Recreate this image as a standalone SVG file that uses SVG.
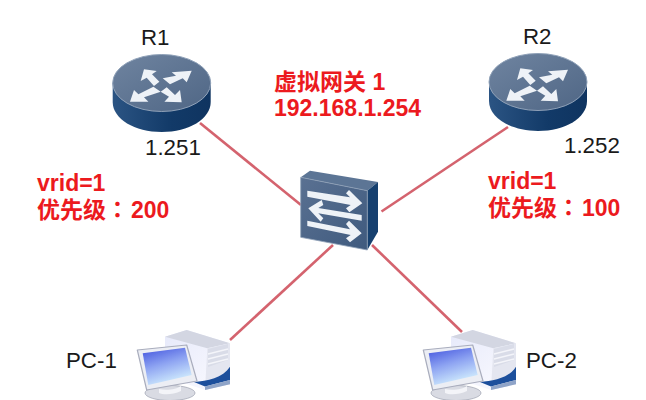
<svg xmlns="http://www.w3.org/2000/svg" width="646" height="400" viewBox="0 0 646 400">
<style>
.lbl{font-family:"Liberation Sans",Arial,sans-serif;font-size:22.300px;fill:#1a1a1a}
.red{font-family:"Liberation Sans","Noto Sans CJK SC",sans-serif;font-size:23px;font-weight:700;fill:#ec1a1e}
.tc{font-family:"Noto Sans CJK TC",sans-serif}
.link{stroke:#d4636e;stroke-width:2.600;fill:none}
.arr{fill:#eef2f7}
</style>
<defs>
<filter id="soft" x="-5%" y="-5%" width="110%" height="110%"><feGaussianBlur stdDeviation="0.45"/></filter>
<linearGradient id="rtop" x1="0" y1="0" x2="1" y2="1"><stop offset="0" stop-color="#6f84a0"/><stop offset="1" stop-color="#4f6685"/></linearGradient>
<linearGradient id="rside" x1="0" y1="0" x2="1" y2="0"><stop offset="0" stop-color="#2b5483"/><stop offset="0.6" stop-color="#123a68"/><stop offset="1" stop-color="#0f3460"/></linearGradient>
<linearGradient id="sfront" x1="0" y1="0" x2="1" y2="1"><stop offset="0" stop-color="#5a7192"/><stop offset="1" stop-color="#3f5a7e"/></linearGradient>
<linearGradient id="screen" x1="0.2" y1="0" x2="0.6" y2="1"><stop offset="0" stop-color="#4a5ce0"/><stop offset="0.45" stop-color="#8ea4f2"/><stop offset="1" stop-color="#d6f2fe"/></linearGradient>
<linearGradient id="tower" x1="0" y1="0" x2="1" y2="1"><stop offset="0" stop-color="#e6e9fa"/><stop offset="1" stop-color="#fbfbff"/></linearGradient>
<g id="router">
<path d="M-49 0V19C-49 36-27 49 0 49S49 36 49 19V0Z" fill="url(#rside)"/>
<ellipse cx="0" cy="0" rx="49" ry="28.500" fill="url(#rtop)" stroke="#8fa1b8" stroke-width="1"/>
<g class="arr">
<path d="M-17.700-13.700-5-12-9.700-8.700-2.300-1.300-7.700 3-15-5.300-21-2Z"/>
<path d="M30-12.300 10-10.700 14.300-7.300 1-4.700 8.300 1.300 21-4.700 25-.7Z"/>
<path d="M-31.700 18.700-13.300 18.700-17.700 14.300-1 8.700-8.300 3.700-23.300 11.300-27.700 7Z"/>
<path d="M20 19.300 2.700 18.700 7.300 13.700-1 8.700 5 4.300 13.300 12 18.300 7Z"/>
</g>
</g>
<g id="pc" filter="url(#soft)">
<path d="M26 5.700 47.700-1 91 12.300V53.300L66 59 45 52 26 40Z" fill="url(#tower)"/>
<path d="M26 5.700 47.700-1 91 12.300 68.300 17.300Z" fill="#d3d6e2"/>
<path d="M68.300 17.300 91 12.300V53.300L66 59Z" fill="#e4e6f0"/>
<path d="M69 18 89 13V29L69 36Z" fill="#d9dce8"/>
<path d="M69 23 89 18M69 28 89 23M69 33 89 28" stroke="#f4f5fa" stroke-width="1.300"/>
<path d="M55 51C68 50 84 47 91 35.700V49L66 55.500Z" fill="#1c4f9c"/>
<path d="M66 55.500 91 49V53.300L66 59Z" fill="#8fa4c8"/>
<ellipse cx="31" cy="62" rx="25" ry="7.500" fill="#d9dbe3" stroke="#a4a8b6" stroke-width=".8"/>
<path d="M20 58C28 60 38 58 42 55L42 60C34 64 24 64 20 62Z" fill="#f3f4f8"/>
<path d="M-1.700 19 47.700 14 58 50 7.700 59Z" fill="#eceef4" stroke="#a9adbd" stroke-width="1.200" stroke-linejoin="round"/>
<path d="M3.700 22.300 46 16.700 52.700 44 9.300 54Z" fill="url(#screen)"/>
</g>
</defs>
<rect width="646" height="400" fill="#fff"/>
<g id="connectors">
<line class="link" x1="200" y1="123" x2="301" y2="205"/>
<line class="link" x1="381.500" y1="211.500" x2="508" y2="127"/>
<line class="link" x1="333" y1="245" x2="230" y2="340"/>
<line class="link" x1="372" y1="245" x2="462" y2="332"/>
</g>
<g id="R1"><use href="#router" x="161.700" y="83"/><text class="lbl" x="141" y="45">R1</text><text class="lbl" x="145" y="155">1.251</text></g>
<g id="R2"><use href="#router" x="538" y="82"/><text class="lbl" x="523" y="44">R2</text><text class="lbl" x="564" y="153">1.252</text></g>
<g id="switch">
<path d="M300.700 177.300 310 170.700 378 182 367.300 190.700Z" fill="#5c7595"/>
<path d="M367.300 190.700 378 182V231.700L367.300 250Z" fill="#16406f"/>
<path d="M300.700 177.300 367.300 190.700V250L300.700 237.300Z" fill="url(#sfront)" stroke="#8fa1b8" stroke-width=".8"/>
<g class="arr">
<path d="M307.300 190.700 350 197.300 346 193.300 349 190 362.300 203.300 349.300 212.300 346 208.300 350.700 205 307.300 196.700Z"/>
<path d="M308.300 208.300 321.700 200 323.300 205 318.300 208 361.700 215 361.700 220.700 318.300 213.300 323.300 218.300 320.700 221.700Z"/>
<path d="M307.300 220.700 350 229.300 346 224 349 220.700 361.700 233.300 350 242.300 346 238.300 350.700 235 307.300 226Z"/>
</g>
</g>
<g id="PC-1"><use href="#pc" x="139" y="331"/><text class="lbl" x="66" y="368">PC-1</text></g>
<g id="PC-2"><use href="#pc" x="425" y="331"/><text class="lbl" x="526" y="368">PC-2</text></g>
<g id="labels">
<text class="red" x="274" y="90">虚拟网关 1</text>
<text class="red" x="274" y="116">192.168.1.254</text>
<text class="red" x="37" y="191">vrid=1</text>
<text class="red" x="37" y="218">优先级<tspan class="tc">：</tspan><tspan dx="2">200</tspan></text>
<text class="red" x="488" y="189">vrid=1</text>
<text class="red" x="488" y="216">优先级<tspan class="tc">：</tspan><tspan dx="2">100</tspan></text>
</g>
</svg>
